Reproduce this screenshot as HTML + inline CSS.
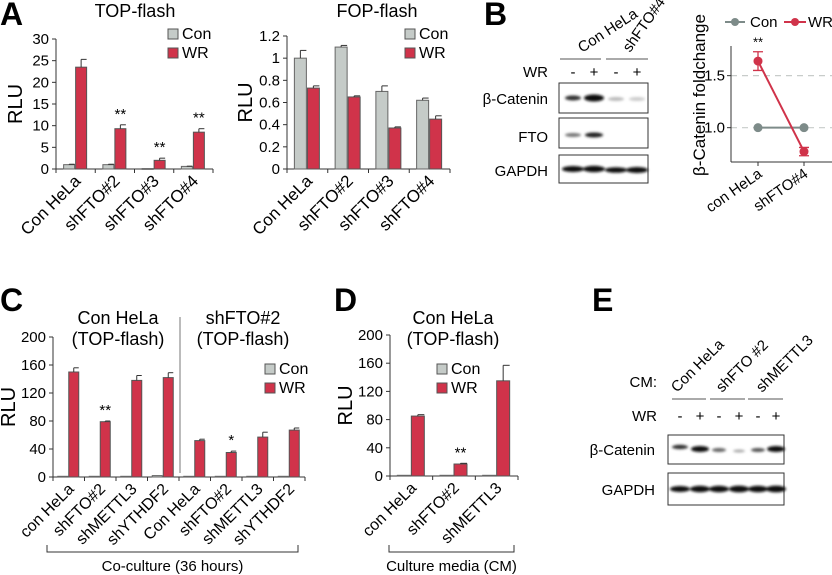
<!DOCTYPE html>
<html><head><meta charset="utf-8"><style>
body{margin:0;background:#fff}
svg{display:block;font-family:"Liberation Sans",Arial,sans-serif}
</style></head><body>
<svg id="fig" width="832" height="575" viewBox="0 0 832 575" xmlns="http://www.w3.org/2000/svg">
<defs><filter id="blur" x="-20%" y="-100%" width="140%" height="300%"><feGaussianBlur stdDeviation="1.3"/></filter></defs>
<g font-weight="bold" font-size="32" fill="#000">
<text x="0" y="25">A</text>
<text x="484" y="25">B</text>
<text x="0" y="311">C</text>
<text x="334" y="311">D</text>
<text x="592" y="311">E</text>
</g>
<g id="charts"></g>

<!-- Panel B blot -->
<g font-size="15">
<text transform="translate(582,53) rotate(-33)">Con HeLa</text>
<text transform="translate(630,53) rotate(-55)">shFTO#4</text>
<line x1="560" y1="59" x2="601" y2="59" stroke="#555"/><line x1="606" y1="59" x2="648" y2="59" stroke="#555"/>
<text x="548" y="77" text-anchor="end">WR</text>
<text x="573" y="77" text-anchor="middle">-</text><text x="594" y="77" text-anchor="middle">+</text>
<text x="616" y="77" text-anchor="middle">-</text><text x="637" y="77" text-anchor="middle">+</text>
<text x="548" y="104" text-anchor="end">β-Catenin</text>
<text x="548" y="142" text-anchor="end">FTO</text>
<text x="548" y="176" text-anchor="end">GAPDH</text>
<rect x="559" y="83" width="89" height="30" fill="#fff" stroke="#333"/>
<rect x="559" y="118" width="89" height="30" fill="#fff" stroke="#333"/>
<rect x="559" y="155" width="89" height="28" fill="#fff" stroke="#333"/>
<g filter="url(#blur)">
<ellipse cx="573" cy="98" rx="8" ry="2.5" fill="#333"/><ellipse cx="594" cy="98" rx="10" ry="3.5" fill="#111"/>
<ellipse cx="616" cy="99" rx="8" ry="2" fill="#bbb"/><ellipse cx="637" cy="99" rx="8" ry="2" fill="#ccc"/>
<ellipse cx="573" cy="135" rx="8" ry="2" fill="#777"/><ellipse cx="594" cy="135" rx="9" ry="2.5" fill="#222"/>
<ellipse cx="573" cy="169" rx="11" ry="3" fill="#111"/><ellipse cx="594" cy="169" rx="11" ry="3.2" fill="#111"/>
<ellipse cx="616" cy="170" rx="11" ry="2.8" fill="#111"/><ellipse cx="637" cy="170" rx="11" ry="3" fill="#111"/>
</g></g>

<!-- Panel E blot -->
<g font-size="15">
<text x="657" y="387" text-anchor="end">CM:</text>
<text transform="translate(677,393) rotate(-45)">Con HeLa</text>
<text transform="translate(722,393) rotate(-45)">shFTO #2</text>
<text transform="translate(762,393) rotate(-45)">shMETTL3</text>
<line x1="672" y1="399" x2="706" y2="399" stroke="#555"/><line x1="710" y1="399" x2="745" y2="399" stroke="#555"/><line x1="748" y1="399" x2="783" y2="399" stroke="#555"/>
<text x="657" y="421" text-anchor="end">WR</text>
<g text-anchor="middle"><text x="680" y="421">-</text><text x="700" y="421">+</text><text x="719" y="421">-</text><text x="739" y="421">+</text><text x="758" y="421">-</text><text x="776" y="421">+</text></g>
<text x="655" y="455" text-anchor="end">β-Catenin</text>
<text x="655" y="495" text-anchor="end">GAPDH</text>
<rect x="668" y="435" width="116" height="29" fill="#fff" stroke="#333"/>
<rect x="668" y="473" width="116" height="32" fill="#fff" stroke="#333"/>
<g filter="url(#blur)">
<ellipse cx="680" cy="447" rx="8" ry="2.2" fill="#333"/><ellipse cx="700" cy="449" rx="9" ry="3" fill="#111"/>
<ellipse cx="719" cy="450" rx="7" ry="2" fill="#666"/><ellipse cx="739" cy="451" rx="6" ry="1.5" fill="#aaa"/>
<ellipse cx="758" cy="450" rx="7" ry="2" fill="#555"/><ellipse cx="776" cy="449" rx="9" ry="3" fill="#111"/>
<ellipse cx="680" cy="489" rx="10" ry="3" fill="#111"/><ellipse cx="700" cy="489" rx="10" ry="3.2" fill="#111"/>
<ellipse cx="719" cy="489" rx="10" ry="3.2" fill="#111"/><ellipse cx="739" cy="489" rx="10" ry="3.4" fill="#111"/>
<ellipse cx="758" cy="489" rx="10" ry="3.2" fill="#111"/><ellipse cx="776" cy="489" rx="10" ry="3.4" fill="#111"/>
</g></g>
</svg>
<script>
// Panel A TOP-flash
const topCats = ["Con HeLa","shFTO#2","shFTO#3","shFTO#4"];
const topCon = [1.0, 1.0, 0.1, 0.6];
const topWR = [23.5, 9.3, 2.0, 8.5];
const topWRErr = [1.8, 0.9, 0.5, 0.8];
const topConErr = [0.1, 0.1, 0, 0.05];
const topSig = ["", "**", "**", "**"];
const topTicks = [0,5,10,15,20,25,30];
// Panel A FOP-flash
const fopCats = ["Con HeLa","shFTO#2","shFTO#3","shFTO#4"];
const fopCon = [1.0, 1.1, 0.7, 0.62];
const fopWR = [0.73, 0.65, 0.37, 0.45];
const fopConErr = [0.07, 0.015, 0.05, 0.02];
const fopWRErr = [0.02, 0.01, 0.01, 0.03];
const fopTicks = [0,0.2,0.4,0.6,0.8,1,1.2];
// Panel C
const cCats = ["con HeLa","shFTO#2","shMETTL3","shYTHDF2","Con HeLa","shFTO#2","shMETTL3","shYTHDF2"];
const cCon = [1,1,1,2,1,1,1,1];
const cWR = [150,79,138,142,52,35,57,67];
const cWRErr = [6,1,7,7,2,2,7,3];
const cSig = ["","**","","","","*","",""];
const cTicks = [0,40,80,120,160,200];
// Panel D
const dCats = ["con HeLa","shFTO#2","shMETTL3"];
const dCon = [1,1,1];
const dWR = [85,17,135];
const dWRErr = [2,1,22];
const dSig = ["","**",""];
const dTicks = [0,40,80,120,160,200];
// Panel B line chart
const bCats = ["con HeLa","shFTO#4"];
const bCon = [1.0, 1.0];
const bWR = [1.64, 0.77];
const bWRErr = [0.09, 0.04];
const bTicks = [1.0, 1.5];

const NS = "http://www.w3.org/2000/svg";
const root = document.getElementById("charts");
const GRAY = "#c5cbc8", RED = "#d0334a";
function mk(tag, attrs, parent, txt){
  const e = document.createElementNS(NS, tag);
  for (const k in attrs) e.setAttribute(k, attrs[k]);
  if (txt !== undefined) e.textContent = txt;
  (parent||root).appendChild(e);
  return e;
}
function barChart(o){
  const g = mk("g", {});
  
  
  const y = v => o.y0 - (v - o.min) / (o.max - o.min) * (o.y0 - o.y1);
  const n = o.cats.length, gw = (o.xEnd - o.x0) / n;
  mk("line", {x1:o.x0, y1:o.y1, x2:o.x0, y2:o.y0, stroke:"#333"}, g);
  mk("line", {x1:o.x0, y1:o.y0, x2:o.xEnd, y2:o.y0, stroke:"#333"}, g);
  o.ticks.forEach(t => {
    mk("line", {x1:o.x0-4, y1:y(t), x2:o.x0, y2:y(t), stroke:"#333"}, g);
    const tl = mk("text", {x:o.x0-7, y:y(t)+5, "text-anchor":"end", "font-size":15}, g, String(t));
    
    
  });
  for (let i = 0; i <= n; i++) mk("line", {x1:o.x0+i*gw, y1:o.y0, x2:o.x0+i*gw, y2:o.y0+4, stroke:"#333"}, g);
  o.cats.forEach((c, i) => {
    const gx = o.x0 + i*gw;
    const cx = gx + gw*0.5 - o.bw - 1, wx = gx + gw*0.5;
    const rc = mk("rect", {x:cx, y:y(o.con[i]), width:o.bw, height:Math.max(0.8,o.y0-y(o.con[i])), fill:GRAY, stroke:"#666", "stroke-width":1}, g);
    
    
    const rw = mk("rect", {x:wx, y:y(o.wr[i]), width:o.bw, height:o.y0-y(o.wr[i]), fill:RED, stroke:"#555", "stroke-width":1}, g);
    
    
    const eb = (bx, v, e) => { if (!e) return; const ty = y(v+e), mx = bx+o.bw/2;
      mk("line", {x1:mx, y1:y(v), x2:mx, y2:ty, stroke:"#333"}, g);
      mk("line", {x1:mx, y1:ty, x2:mx+o.bw/2, y2:ty, stroke:"#333"}, g); };
    if (o.conErr) eb(cx, o.con[i], o.conErr[i]);
    eb(wx, o.wr[i], o.wrErr[i]);
    if (o.sig && o.sig[i]) mk("text", {x:wx+o.bw/2, y:y(o.wr[i]+o.wrErr[i])-6, "text-anchor":"middle", "font-size":15}, g, o.sig[i]);
    const lx = gx + gw*0.5 + 6, ly = o.y0 + 13;
    const lt = mk("text", {transform:`translate(${lx},${ly}) rotate(-45)`, "text-anchor":"end", "font-size":o.lfs||17}, g, c);
    
    
  });
  const yl = mk("text", {transform:`translate(${o.ylx},${(o.y0+o.y1)/2}) rotate(-90)`, "text-anchor":"middle", "font-size":20}, g, "RLU");
  
  
  // legend
  [["Con",GRAY],["WR",RED]].forEach((l, k) => {
    const ly = o.legY + k*19;
    mk("rect", {x:o.legX, y:ly-10, width:10, height:10, fill:l[1], stroke:"#555"}, g);
    const t = mk("text", {x:o.legX+14, y:ly, "font-size":16}, g, l[0]);
    
    
  });
  return g;
}
barChart({name:"top-flash-chart", cats:topCats, con:topCon, wr:topWR, wrErr:topWRErr, conErr:topConErr, sig:topSig, ticks:topTicks, min:0, max:30, x0:56, xEnd:213, y0:169, y1:39, bw:11, ylx:22, legX:168, legY:39});
barChart({name:"fop-flash-chart", cats:fopCats, con:fopCon, wr:fopWR, wrErr:fopWRErr, conErr:fopConErr, ticks:fopTicks, min:0, max:1.2, x0:287, xEnd:450, y0:169, y1:36, bw:12, ylx:252, legX:405, legY:39});
barChart({name:"panel-c-chart", cats:cCats, con:cCon, wr:cWR, wrErr:cWRErr, sig:cSig, ticks:cTicks, min:0, max:200, x0:53, xEnd:305, y0:477, y1:337, bw:10, ylx:15, legX:265, legY:374, lfs:16});
barChart({name:"panel-d-chart", cats:dCats, con:dCon, wr:dWR, wrErr:dWRErr, sig:dSig, ticks:dTicks, min:0, max:200, x0:390, xEnd:518, y0:476, y1:335, bw:13, ylx:352, legX:437, legY:374, lfs:16});

// titles & annotations
function txt(x,y,s,fs,name,anchor){ const t = mk("text",{x:x,y:y,"font-size":fs,"text-anchor":anchor||"middle"},root,s);
  
   }
txt(135,17,"TOP-flash",18,"top-flash-title");
txt(377,17,"FOP-flash",18,"fop-flash-title");
txt(118,324,"Con HeLa",18,"c-title-left");
txt(118,345,"(TOP-flash)",18,"c-title-left-sub");
txt(243,324,"shFTO#2",18,"c-title-right");
txt(243,345,"(TOP-flash)",18,"c-title-right-sub");
txt(453,324,"Con HeLa",18,"d-title");
txt(453,345,"(TOP-flash)",18,"d-title-sub");
mk("line",{x1:180,y1:317,x2:180,y2:473,stroke:"#777"});
// brackets
function bracket(x1,x2,y,label,name){ mk("path",{d:`M${x1},${y-7} V${y} H${x2} V${y-7}`,fill:"none",stroke:"#333"}); txt((x1+x2)/2,y+19,label,15,name); }
bracket(47,298,552,"Co-culture (36 hours)","c-bracket-label");
bracket(389,514,552,"Culture media (CM)","d-bracket-label");

// Panel B line chart
(function(){
  const g = mk("g", {});
  
  
  const x0 = 731, y0 = 162, yTop = 46, vmin = 0.67, vmax = 1.785;
  const y = v => y0 - (v - vmin)/(vmax - vmin)*(y0 - yTop);
  const xs = i => 758 + i*46;
  bTicks.forEach(t => {
    mk("line",{x1:x0,y1:y(t),x2:832,y2:y(t),stroke:"#c8ccca","stroke-dasharray":"6,5","stroke-width":1.2},g);
    mk("line",{x1:x0-4,y1:y(t),x2:x0,y2:y(t),stroke:"#333"},g);
    mk("text",{x:x0-6,y:y(t)+5,"text-anchor":"end","font-size":15},g,t.toFixed(1));
  });
  mk("line",{x1:x0,y1:yTop,x2:x0,y2:y0,stroke:"#333"},g);
  mk("line",{x1:x0,y1:y0,x2:832,y2:y0,stroke:"#333"},g);
  bCats.forEach((c,i) => {
    mk("line",{x1:xs(i),y1:y0,x2:xs(i),y2:y0+4,stroke:"#333"},g);
    const t = mk("text",{transform:`translate(${xs(i)+5},${y0+14}) rotate(-35)`,"text-anchor":"end","font-size":15},g,c);
    
    
  });
  const GC = "#7d8b89";
  mk("polyline",{points:bCon.map((v,i)=>xs(i)+","+y(v)).join(" "),fill:"none",stroke:GC,"stroke-width":2},g);
  mk("polyline",{points:bWR.map((v,i)=>xs(i)+","+y(v)).join(" "),fill:"none",stroke:RED,"stroke-width":2},g);
  bWR.forEach((v,i)=>{ const e=bWRErr[i];
    mk("path",{d:`M${xs(i)},${y(v-e)} V${y(v+e)} M${xs(i)-5},${y(v-e)} H${xs(i)+5} M${xs(i)-5},${y(v+e)} H${xs(i)+5}`,stroke:RED,"stroke-width":1.3,fill:"none"},g); });
  bCon.forEach((v,i)=>{ const p = mk("circle",{cx:xs(i),cy:y(v),r:4.5,fill:GC},g);
    
     });
  bWR.forEach((v,i)=>{ const p = mk("circle",{cx:xs(i),cy:y(v),r:4.5,fill:RED},g);
    
     });
  mk("text",{x:xs(0),y:y(bWR[0]+bWRErr[0])-5,"text-anchor":"middle","font-size":13},g,"**");
  const yl = mk("text",{transform:`translate(705,95) rotate(-90)`,"text-anchor":"middle","font-size":17},g,"β-Catenin foldchange");
  
  
  // legend
  mk("line",{x1:725,y1:22,x2:745,y2:22,stroke:GC,"stroke-width":2},g);
  mk("circle",{cx:735,cy:22,r:4,fill:GC},g);
  const l1 = mk("text",{x:750,y:27,"font-size":15},g,"Con");
  
  
  mk("line",{x1:784,y1:22,x2:806,y2:22,stroke:RED,"stroke-width":2},g);
  mk("circle",{cx:795,cy:22,r:4,fill:RED},g);
  const l2 = mk("text",{x:808,y:27,"font-size":15},g,"WR");
  
  
})();
</script>
</body></html>
